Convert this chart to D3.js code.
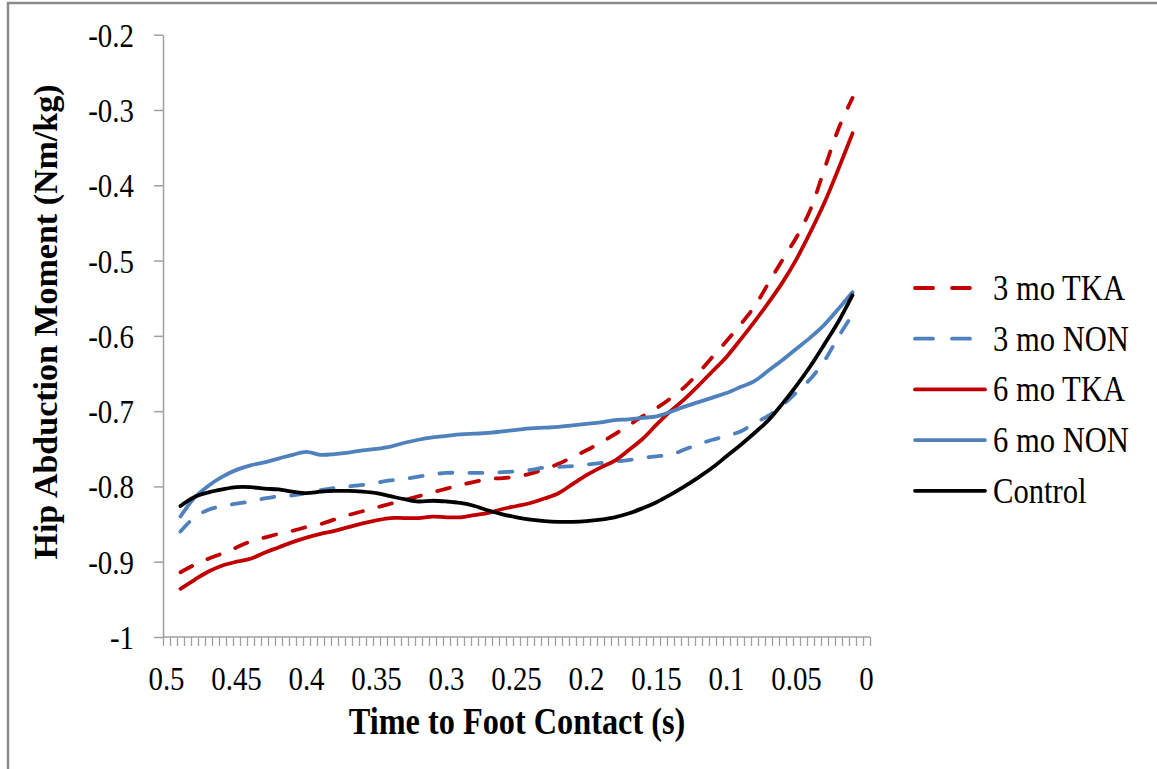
<!DOCTYPE html>
<html><head><meta charset="utf-8">
<script src="https://cdn.jsdelivr.net/npm/d3@7"></script>
<style>
body{margin:0;background:#fff}
svg{display:block}
text{font-family:"Liberation Serif","Times New Roman",serif;fill:#000}
</style>
</head><body>
<svg id="chart" width="1157" height="769"></svg>
<script>
// ---- data ----
const times = [0.49,0.48,0.47,0.46,0.45,0.44,0.43,0.42,0.41,0.40,0.39,0.38,0.37,0.36,0.35,0.34,0.33,0.32,0.31,0.30,0.29,0.28,0.27,0.26,0.25,0.24,0.23,0.22,0.21,0.20,0.19,0.18,0.17,0.16,0.15,0.14,0.13,0.12,0.11,0.10,0.09,0.08,0.07,0.06,0.05,0.04,0.03,0.02,0.01];
const tka3 = [-0.914,-0.904,-0.896,-0.889,-0.881,-0.873,-0.868,-0.863,-0.859,-0.854,-0.850,-0.844,-0.838,-0.833,-0.828,-0.823,-0.818,-0.813,-0.808,-0.803,-0.798,-0.794,-0.790,-0.789,-0.787,-0.783,-0.777,-0.770,-0.761,-0.752,-0.742,-0.731,-0.719,-0.707,-0.696,-0.683,-0.668,-0.649,-0.628,-0.607,-0.585,-0.561,-0.530,-0.499,-0.469,-0.432,-0.378,-0.325,-0.284];
const non3 = [-0.860,-0.841,-0.831,-0.826,-0.823,-0.820,-0.816,-0.813,-0.812,-0.809,-0.805,-0.802,-0.800,-0.798,-0.795,-0.792,-0.790,-0.787,-0.784,-0.782,-0.782,-0.782,-0.782,-0.781,-0.780,-0.778,-0.775,-0.774,-0.773,-0.771,-0.769,-0.767,-0.765,-0.762,-0.760,-0.758,-0.751,-0.744,-0.738,-0.733,-0.727,-0.716,-0.706,-0.692,-0.675,-0.657,-0.633,-0.601,-0.572];
const tka6 = [-0.936,-0.924,-0.913,-0.905,-0.900,-0.896,-0.888,-0.881,-0.874,-0.868,-0.863,-0.859,-0.854,-0.849,-0.845,-0.842,-0.842,-0.842,-0.840,-0.841,-0.841,-0.838,-0.835,-0.830,-0.826,-0.822,-0.816,-0.809,-0.797,-0.785,-0.775,-0.766,-0.752,-0.737,-0.718,-0.700,-0.684,-0.666,-0.647,-0.628,-0.605,-0.581,-0.556,-0.529,-0.498,-0.462,-0.423,-0.378,-0.331];
const non6 = [-0.840,-0.815,-0.799,-0.787,-0.778,-0.772,-0.768,-0.763,-0.758,-0.754,-0.758,-0.757,-0.755,-0.752,-0.750,-0.747,-0.742,-0.738,-0.735,-0.733,-0.731,-0.730,-0.729,-0.727,-0.725,-0.723,-0.722,-0.721,-0.719,-0.717,-0.715,-0.712,-0.711,-0.709,-0.707,-0.701,-0.694,-0.688,-0.682,-0.676,-0.668,-0.660,-0.646,-0.632,-0.617,-0.602,-0.585,-0.564,-0.542];
const control = [-0.826,-0.814,-0.808,-0.804,-0.801,-0.801,-0.803,-0.804,-0.807,-0.809,-0.807,-0.806,-0.806,-0.807,-0.809,-0.813,-0.817,-0.820,-0.819,-0.820,-0.822,-0.826,-0.832,-0.837,-0.841,-0.844,-0.846,-0.847,-0.847,-0.846,-0.844,-0.841,-0.836,-0.829,-0.821,-0.811,-0.800,-0.788,-0.775,-0.760,-0.745,-0.729,-0.712,-0.690,-0.666,-0.640,-0.611,-0.581,-0.546];

const seriesNames = ["3 mo TKA","3 mo NON","6 mo TKA","6 mo NON","Control"];
const seriesColors = ["#C00000","#4F81BD","#C00000","#4F81BD","#000000"];
const seriesDashed = [true,true,false,false,false];
const seriesValues = [tka3, non3, tka6, non6, control];

const yTickValues = [-0.2,-0.3,-0.4,-0.5,-0.6,-0.7,-0.8,-0.9,-1];
const xTickLabels = [0.5,0.45,0.4,0.35,0.3,0.25,0.2,0.15,0.1,0.05,0];
const xTitle = "Time to Foot Contact (s)";
const yTitle = "Hip Abduction Moment (Nm/kg)";

// ---- layout ----
const plotL = 163, plotR = 870, plotT = 34.7, plotB = 637;
const nCat = 101;                      // categories 0.5 .. 0 step 0.005
const band = (plotR - plotL) / nCat;
const sx = 0.85;                       // horizontal squeeze of the serif text

const svg = d3.select("#chart");

// frame (cropped chart border)
svg.append("path").attr("d","M8,769 L8,3 L1157,3")
  .attr("fill","none").attr("stroke","#8a8a8a").attr("stroke-width",2.5);

const x = d3.scaleLinear().domain([0.5, 0]).range([plotL + band/2, plotR - band/2]);
const y = d3.scaleLinear().domain([-1, -0.2]).range([plotB, plotT]);

// x axis: minor category tick marks
const step = 0.5 / (nCat - 1);
const minor = d3.range(nCat + 1).map(i => 0.5 + step/2 - i*step);
const gx = svg.append("g").attr("transform",`translate(0,${plotB})`)
  .call(d3.axisBottom(x).tickValues(minor).tickSize(9).tickFormat(""));
gx.select(".domain").remove();
gx.selectAll(".tick line").attr("stroke","#a0a0a0").attr("stroke-width",1.3);
gx.append("line").attr("x1",x(minor[0])).attr("x2",x(minor[minor.length-1]))
  .attr("y1",0).attr("y2",0).attr("stroke","#a0a0a0").attr("stroke-width",1.5);

// x tick labels
svg.append("g").selectAll("text").data(xTickLabels).join("text")
  .attr("transform", d => `translate(${x(d)},690) scale(${sx},1)`)
  .attr("text-anchor","middle").attr("font-size",34)
  .text(d => String(+d.toFixed(2)));

// y axis
const gy = svg.append("g").attr("transform",`translate(${plotL},0)`)
  .call(d3.axisLeft(y).tickValues(yTickValues).tickSize(9).tickSizeOuter(0).tickFormat(""));
gy.select(".domain").attr("stroke","#a0a0a0").attr("stroke-width",1.5);
gy.selectAll(".tick line").attr("stroke","#a0a0a0").attr("stroke-width",1.5);

svg.append("g").selectAll("text").data(yTickValues).join("text")
  .attr("transform", d => `translate(134,${y(d) + 12}) scale(${sx},1)`)
  .attr("text-anchor","end").attr("font-size",34)
  .text(d => String(+d.toFixed(1)));

// axis titles
svg.append("text").attr("transform",`translate(517,734) scale(${sx},1)`)
  .attr("text-anchor","middle").attr("font-size",38).attr("font-weight","bold")
  .text(xTitle);
svg.append("text").attr("transform","translate(57,322) rotate(-90)")
  .attr("text-anchor","middle").attr("font-size",34).attr("font-weight","bold")
  .text(yTitle);

// series lines
const line = d3.line().x(d => x(d[0])).y(d => y(d[1])).curve(d3.curveCatmullRom.alpha(0.5));
const gl = svg.append("g");
seriesValues.forEach((vals, i) => {
  const pts = times.map((t, k) => [t, vals[k]]);
  gl.append("path").datum(pts).attr("d", line)
    .attr("fill","none").attr("stroke", seriesColors[i]).attr("stroke-width",3.8)
    .attr("stroke-linecap","round").attr("stroke-linejoin","round")
    .attr("stroke-dasharray", seriesDashed[i] ? "13,17" : null);
});

// legend
const lg = svg.append("g");
seriesNames.forEach((name, i) => {
  const cy = 288 + i * 50.7;
  lg.append("line").attr("x1",915).attr("x2",985).attr("y1",cy).attr("y2",cy)
    .attr("stroke", seriesColors[i]).attr("stroke-width",3.8).attr("stroke-linecap","round")
    .attr("stroke-dasharray", seriesDashed[i] ? "18,19" : null);
  lg.append("text").attr("transform",`translate(993,${cy + 12}) scale(${sx},1)`)
    .attr("font-size",36).text(name);
});
</script>
</body></html>
